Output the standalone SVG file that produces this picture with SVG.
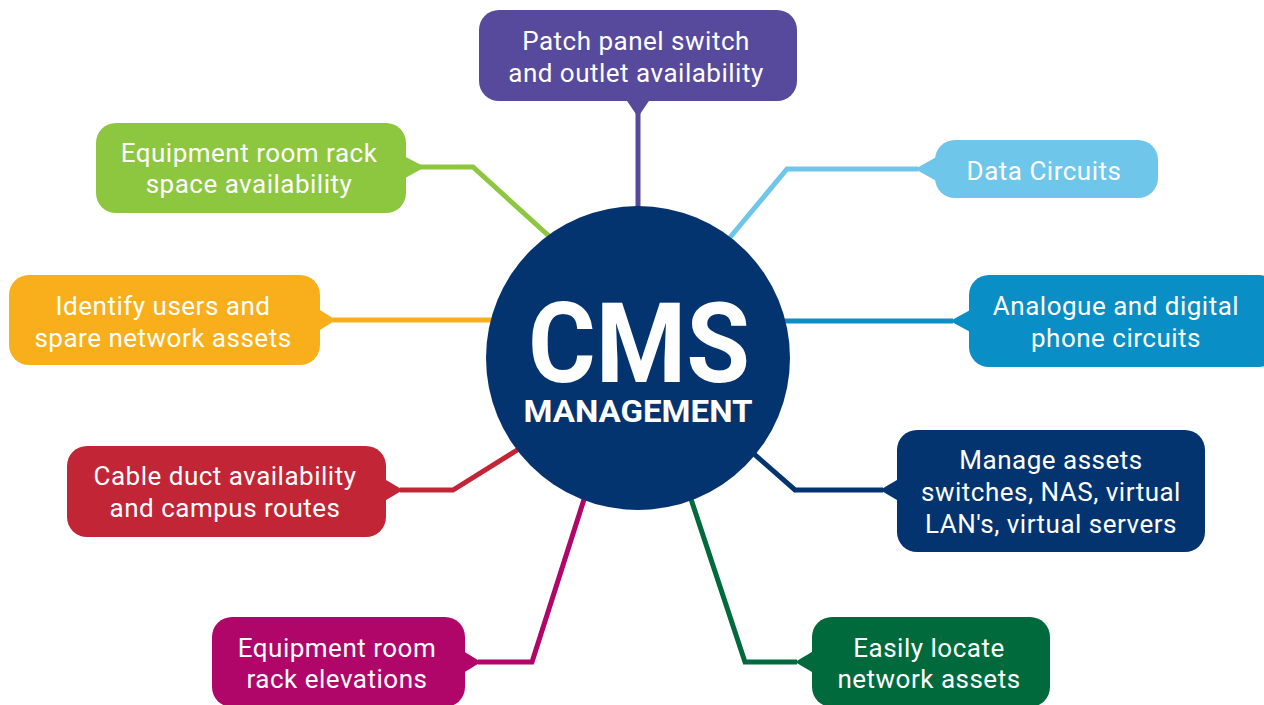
<svg xmlns="http://www.w3.org/2000/svg" width="1264" height="705" viewBox="0 0 1264 705">
<style>
.lbl{font-family:"Roboto","Noto Sans",sans-serif;font-size:26px;letter-spacing:0.5px;fill:#ffffff;text-anchor:middle}
.con{fill:none;stroke-width:5;stroke-linejoin:miter}
.big{font-family:"Roboto","Liberation Sans",sans-serif;font-weight:bold;fill:#ffffff;text-anchor:middle}
</style>
<rect width="1264" height="705" fill="#ffffff"/>
<g id="connectors">
<path class="con" stroke="#574a9c" d="M638,112 V215"/>
<path class="con" stroke="#8dc63f" d="M420,167 H473 L560,246"/>
<path class="con" stroke="#6ec6ea" d="M918,169 H787 L722,247"/>
<path class="con" stroke="#f9ae1b" d="M333,320 H500"/>
<path class="con" stroke="#0a8ec6" d="M953,321 H780"/>
<path class="con" stroke="#c22535" d="M400,490 H453 L530,442"/>
<path class="con" stroke="#04346f" d="M883,490 H795 L745,446"/>
<path class="con" stroke="#b0066a" d="M478,662 H532 L587,490"/>
<path class="con" stroke="#006a3d" d="M797,662 H745 L688,490"/>
</g>
<g id="center">
<circle cx="638" cy="358" r="152" fill="#04346f"/>
<text class="big" x="639" y="382" font-size="112" textLength="222" lengthAdjust="spacingAndGlyphs">CMS</text>
<text class="big" x="638" y="422" font-size="31" textLength="229" lengthAdjust="spacingAndGlyphs">MANAGEMENT</text>
</g>
<g id="n-patch">
<rect x="479" y="10" width="318" height="91" rx="20" fill="#574a9c"/>
<polygon points="625,98 638,117 651,98" fill="#574a9c"/>
<text class="lbl" x="636" y="50">Patch panel switch</text>
<text class="lbl" x="636" y="82">and outlet availability</text>
</g>
<g id="n-rack-space">
<rect x="96" y="123" width="310" height="90" rx="20" fill="#8dc63f"/>
<polygon points="400,154 425,167 400,181" fill="#8dc63f"/>
<text class="lbl" x="249" y="162">Equipment room rack</text>
<text class="lbl" x="249" y="193">space availability</text>
</g>
<g id="n-data">
<rect x="935" y="140" width="223" height="58" rx="20" fill="#6ec6ea"/>
<polygon points="940,155 915,169 940,183" fill="#6ec6ea"/>
<text class="lbl" x="1044" y="180">Data Circuits</text>
</g>
<g id="n-users">
<rect x="9" y="275" width="311" height="90" rx="20" fill="#f9ae1b"/>
<polygon points="315,307 336,320 315,333" fill="#f9ae1b"/>
<text class="lbl" x="163" y="315">Identify users and</text>
<text class="lbl" x="163" y="347">spare network assets</text>
</g>
<g id="n-phone">
<rect x="969" y="275" width="310" height="92" rx="20" fill="#0a8ec6"/>
<polygon points="974,308 950,321 974,334" fill="#0a8ec6"/>
<text class="lbl" x="1116" y="315">Analogue and digital</text>
<text class="lbl" x="1116" y="347">phone circuits</text>
</g>
<g id="n-duct">
<rect x="67" y="446" width="319" height="91" rx="20" fill="#c22535"/>
<polygon points="381,477 403,490 381,503" fill="#c22535"/>
<text class="lbl" x="225" y="485">Cable duct availability</text>
<text class="lbl" x="225" y="517">and campus routes</text>
</g>
<g id="n-manage">
<rect x="897" y="430" width="308" height="122" rx="20" fill="#04346f"/>
<polygon points="902,477 880,490 902,503" fill="#04346f"/>
<text class="lbl" x="1051" y="469">Manage assets</text>
<text class="lbl" x="1051" y="501">switches, NAS, virtual</text>
<text class="lbl" x="1051" y="533">LAN's, virtual servers</text>
</g>
<g id="n-elevations">
<rect x="212" y="617" width="253" height="90" rx="20" fill="#b0066a"/>
<polygon points="460,649 481,662 460,675" fill="#b0066a"/>
<text class="lbl" x="337" y="657">Equipment room</text>
<text class="lbl" x="337" y="688">rack elevations</text>
</g>
<g id="n-locate">
<rect x="812" y="617" width="238" height="90" rx="20" fill="#006a3d"/>
<polygon points="817,649 795,662 817,675" fill="#006a3d"/>
<text class="lbl" x="929" y="657">Easily locate</text>
<text class="lbl" x="929" y="688">network assets</text>
</g>
</svg>
